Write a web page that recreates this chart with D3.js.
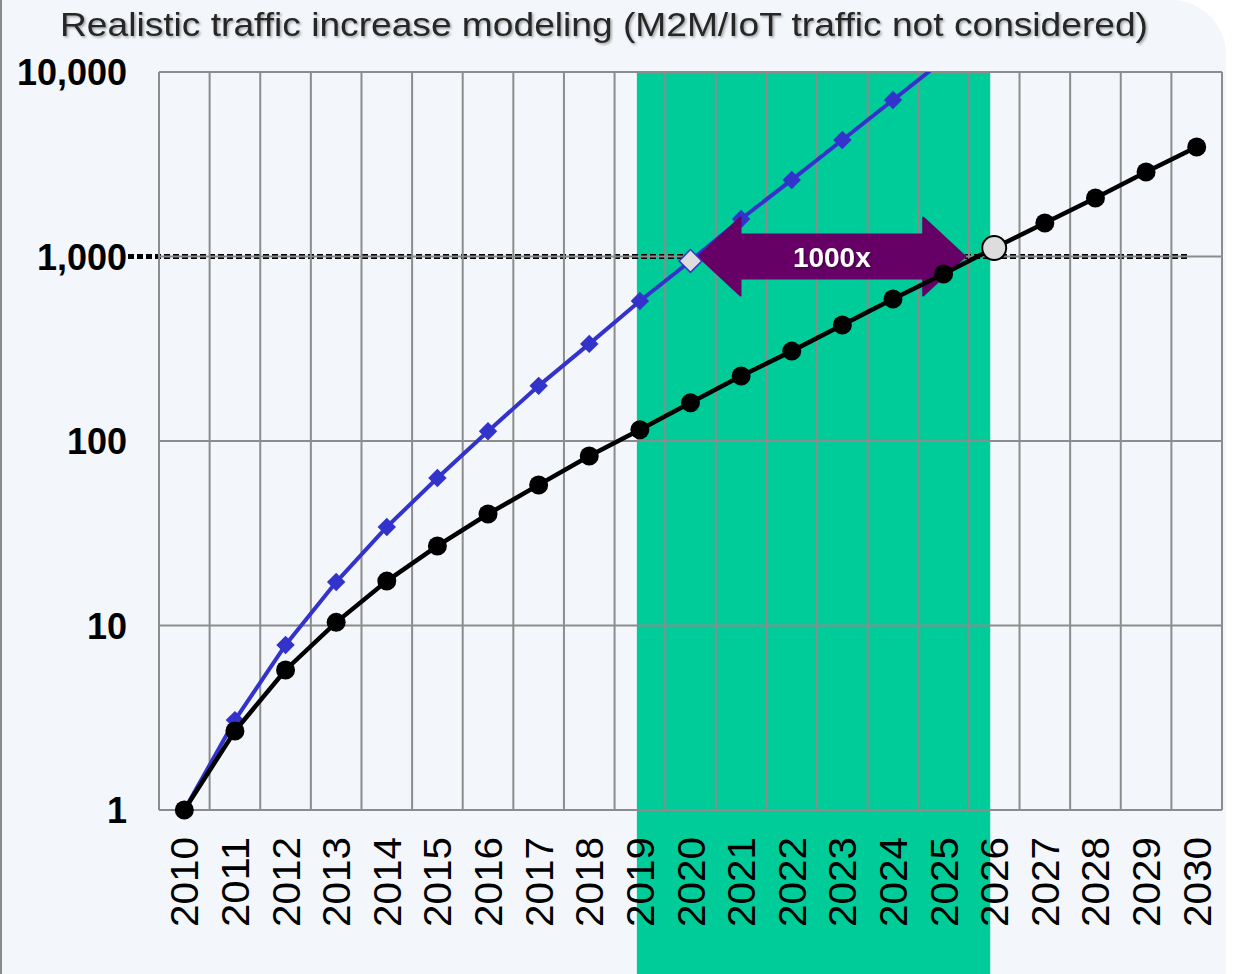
<!DOCTYPE html>
<html>
<head>
<meta charset="utf-8">
<script src="https://cdn.jsdelivr.net/npm/d3@7"></script>
<style>
  body { margin: 0; background: #ffffff; }
  text { font-family: "Liberation Sans", Arial, sans-serif; }
</style>
</head>
<body>
<div id="root"></div>
<script>
// data
const years = d3.range(2010, 2031).map(String)
const realistic = [1, 2.68, 5.74, 10.4, 17.4, 27, 40.2, 57.8, 82.9, 115, 161, 225, 307, 425, 588, 804, 1112, 1520, 2075, 2870, 3920]
const aggressive = [1, 3.07, 7.84, 17.2, 34.2, 63, 113, 199, 336, 574, 946, 1597, 2600, 4280, 7050, 11600]
const yTicks = [1, 10, 100, 1000, 10000]
const shadedYears = ["2019", "2026"]
const arrowYears = ["2020", "2026"]
const arrowLabel = "1000x"
const refValue = 1000
const highlightBlue = "2020"
const highlightBlack = "2026"
const titleText = "Realistic traffic increase modeling (M2M/IoT traffic not considered)"

function drawChart() {
  const ROOT_ELEM = d3.select("#root")
  ROOT_ELEM.selectAll("*").remove()

  const wrapper = { width: 1233, height: 974 }
  const plot = { left: 159, right: 1222, top: 72, bottom: 810 }

  const Wrapper = ROOT_ELEM.append("svg")
    .attr("width", wrapper.width)
    .attr("height", wrapper.height)
    .style("display", "block")

  const defs = Wrapper.append("defs")
  const shadow = defs.append("filter").attr("id", "shadow")
    .attr("x", "-5%").attr("y", "-20%").attr("width", "110%").attr("height", "140%")
  shadow.append("feDropShadow")
    .attr("dx", 1.5).attr("dy", 1.5).attr("stdDeviation", 1)
    .attr("flood-color", "#000").attr("flood-opacity", 0.35)
  defs.append("clipPath").attr("id", "plotClip")
    .append("rect")
    .attr("x", plot.left - 20).attr("y", plot.top)
    .attr("width", plot.right - plot.left + 40).attr("height", plot.bottom - plot.top + 20)

  // panel with rounded top-right corner
  const r = 55
  Wrapper.append("path")
    .attr("d", `M0,0 H${1226 - r} A${r},${r} 0 0 1 1226,${r} V${wrapper.height} H0 Z`)
    .attr("fill", "#f3f6fa")
  Wrapper.append("line")
    .attr("x1", 1).attr("x2", 1).attr("y1", 0).attr("y2", wrapper.height)
    .attr("stroke", "#8a8a8a").attr("stroke-width", 2)

  const xScale = d3.scaleBand().domain(years).range([plot.left, plot.right])
  const bw = xScale.bandwidth()
  const xc = d => xScale(d) + bw / 2
  const yScale = d3.scaleLog().domain([1, 10000]).range([plot.bottom, plot.top])

  // green highlight
  Wrapper.append("rect")
    .attr("x", xc(shadedYears[0]) - 3)
    .attr("y", plot.top)
    .attr("width", xc(shadedYears[1]) - xc(shadedYears[0]) - 1)
    .attr("height", wrapper.height - plot.top)
    .attr("fill", "#00cc99")

  // dotted 1000 reference line (under the grid)
  Wrapper.append("line")
    .attr("x1", 128).attr("x2", 1190)
    .attr("y1", yScale(refValue)).attr("y2", yScale(refValue))
    .attr("stroke", "#000").attr("stroke-width", 5)
    .attr("stroke-dasharray", "6,3")

  // grid
  const grid = Wrapper.append("g").attr("stroke", "#8c8c8c").attr("stroke-width", 2)
  grid.selectAll(".v")
    .data(years.concat(["end"]))
    .join("line")
    .attr("x1", (d, i) => plot.left + i * bw)
    .attr("x2", (d, i) => plot.left + i * bw)
    .attr("y1", plot.top).attr("y2", plot.bottom)
  grid.selectAll(".h")
    .data(yTicks)
    .join("line")
    .attr("x1", plot.left).attr("x2", plot.right)
    .attr("y1", d => yScale(d)).attr("y2", d => yScale(d))

  // y axis labels
  const yAxis = d3.axisLeft(yScale).tickValues(yTicks).tickFormat(d3.format(",")).tickSize(0).tickPadding(0)
  const yAxisG = Wrapper.append("g")
    .attr("transform", `translate(127,0)`)
    .call(yAxis)
  yAxisG.select(".domain").remove()
  yAxisG.selectAll("text")
    .attr("fill", "#000")
    .attr("font-size", 36)
    .attr("font-weight", "bold")
    .attr("font-family", "Liberation Sans, Arial, sans-serif")
    .attr("dy", "0.36em")

  // x axis labels
  const xAxis = d3.axisBottom(xScale).tickSize(0).tickPadding(0)
  const xAxisG = Wrapper.append("g")
    .attr("transform", `translate(0,${plot.bottom})`)
    .call(xAxis)
  xAxisG.select(".domain").remove()
  xAxisG.selectAll("text")
    .attr("fill", "#000")
    .attr("font-size", 39)
    .attr("font-family", "Liberation Sans, Arial, sans-serif")
    .attr("text-anchor", "end")
    .attr("transform", "translate(0,27) rotate(-90)")
    .attr("x", 0).attr("y", 0)
    .attr("dy", "0.36em")
    .attr("textLength", 90)
    .attr("lengthAdjust", "spacingAndGlyphs")

  // blue series (clipped at top)
  const blueData = aggressive.map((v, i) => ({ year: years[i], v }))
  const blackData = realistic.map((v, i) => ({ year: years[i], v }))
  const lineGen = d3.line().x(d => xc(d.year)).y(d => yScale(d.v))

  const blueG = Wrapper.append("g").attr("clip-path", "url(#plotClip)")
  blueG.append("path")
    .datum(blueData)
    .attr("d", lineGen)
    .attr("fill", "none")
    .attr("stroke", "#3333cc")
    .attr("stroke-width", 4)
  blueG.selectAll("path.mk")
    .data(blueData.filter(d => d.year !== highlightBlue && d.v <= 10000))
    .join("path")
    .attr("class", "mk")
    .attr("d", d3.symbol(d3.symbolSquare, 170))
    .attr("transform", d => `translate(${xc(d.year)},${yScale(d.v)}) rotate(45)`)
    .attr("fill", "#3333cc")

  // double-headed arrow
  const ay = yScale(refValue)
  const ax0 = xc(arrowYears[0]) + 8
  const ax1 = xc(arrowYears[1]) - 29
  const headL = 42, headH = 39, bodyH = 22
  Wrapper.append("path")
    .attr("d", [
      `M${ax0},${ay}`,
      `L${ax0 + headL},${ay - headH}`,
      `L${ax0 + headL},${ay - bodyH}`,
      `L${ax1 - headL},${ay - bodyH}`,
      `L${ax1 - headL},${ay - headH}`,
      `L${ax1},${ay}`,
      `L${ax1 - headL},${ay + headH}`,
      `L${ax1 - headL},${ay + bodyH}`,
      `L${ax0 + headL},${ay + bodyH}`,
      `L${ax0 + headL},${ay + headH}`,
      "Z"
    ].join(" "))
    .attr("fill", "#660066")
    .attr("stroke", "#660066")
    .attr("stroke-width", 2)
    .attr("stroke-linejoin", "round")
  Wrapper.append("text")
    .attr("x", (ax0 + ax1) / 2)
    .attr("y", ay)
    .attr("dy", "0.36em")
    .attr("text-anchor", "middle")
    .attr("font-size", 28)
    .attr("font-weight", "bold")
    .attr("fill", "#fff")
    .attr("filter", "url(#shadow)")
    .text(arrowLabel)

  // black series
  Wrapper.append("path")
    .datum(blackData)
    .attr("d", lineGen)
    .attr("fill", "none")
    .attr("stroke", "#000")
    .attr("stroke-width", 4.5)
  Wrapper.selectAll("circle.bk")
    .data(blackData.filter(d => d.year !== highlightBlack))
    .join("circle")
    .attr("class", "bk")
    .attr("cx", d => xc(d.year))
    .attr("cy", d => yScale(d.v))
    .attr("r", 9.5)
    .attr("fill", "#000")

  // highlighted points
  const hb = blueData.find(d => d.year === highlightBlue)
  Wrapper.append("path")
    .attr("d", d3.symbol(d3.symbolSquare, 260)())
    .attr("transform", `translate(${xc(hb.year)},${yScale(hb.v)}) rotate(45)`)
    .attr("fill", "#dddddd")
    .attr("stroke", "#3333cc")
    .attr("stroke-width", 1.5)
  const hk = blackData.find(d => d.year === highlightBlack)
  Wrapper.append("circle")
    .attr("cx", xc(hk.year))
    .attr("cy", yScale(hk.v))
    .attr("r", 12)
    .attr("fill", "#dddddd")
    .attr("stroke", "#000")
    .attr("stroke-width", 2)

  // title
  Wrapper.append("text")
    .attr("x", 604)
    .attr("y", 36)
    .attr("text-anchor", "middle")
    .attr("font-size", 33)
    .attr("textLength", 1088)
    .attr("lengthAdjust", "spacingAndGlyphs")
    .attr("fill", "#262626")
    .attr("filter", "url(#shadow)")
    .text(titleText)
}

drawChart()
</script>
</body>
</html>
